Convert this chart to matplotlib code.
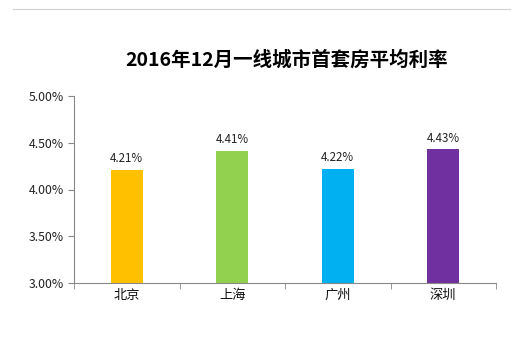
import numpy as np
import matplotlib.pyplot as plt
from matplotlib.ticker import FuncFormatter

plt.rcParams['font.family'] = ['Noto Sans CJK SC', 'DejaVu Sans']

# ===== Data =====
cities = ['北京', '上海', '广州', '深圳']
rates = [4.21, 4.41, 4.22, 4.43]
colors = ['#FFC000', '#92D050', '#00B0F0', '#7030A0']
title = '2016年12月一线城市首套房平均利率'

# ===== Plot =====
fig = plt.figure(figsize=(5.22, 3.39), dpi=100)
ax = fig.add_axes([74 / 522, 56 / 339, 422 / 522, 187 / 339])

x = np.arange(len(cities))
bars = ax.bar(x, [r - 3.0 for r in rates], bottom=3.0, width=0.3, color=colors)

for xi, r in zip(x, rates):
    ax.text(xi, r + 0.05, f'{r:.2f}%', ha='center', va='bottom', fontsize=8.3, color='#222222')

ax.set_xlim(-0.5, len(cities) - 0.5)
ax.set_ylim(3.0, 5.0)
ax.set_yticks([3.0, 3.5, 4.0, 4.5, 5.0])
ax.yaxis.set_major_formatter(FuncFormatter(lambda v, _: f'{v:.2f}%'))

# category labels centred under bars, tick marks between categories
ax.set_xticks(x)
ax.set_xticklabels(cities, fontsize=9.5, color='#111111')
ax.tick_params(axis='x', length=0, pad=4)
ax.set_xticks(np.arange(-0.5, len(cities)), minor=True)
ax.tick_params(axis='x', which='minor', length=4, color='#888888', direction='out')

ax.tick_params(axis='y', length=4, color='#888888', labelsize=8.8, labelcolor='#222222', pad=3)

for side in ['top', 'right']:
    ax.spines[side].set_visible(False)
ax.spines['left'].set_color('#888888')
ax.spines['bottom'].set_color('#888888')

fig.text(287 / 522, 1 - 60 / 339, title, ha='center', va='center',
         fontsize=14, fontweight='bold', color='#000000')

# thin frame line along the top
fig.add_artist(plt.Line2D([13 / 522, 510 / 522], [1 - 9 / 339, 1 - 9 / 339],
                          color='#d0d0d0', lw=0.8))

fig.savefig('out.png', dpi=100)
